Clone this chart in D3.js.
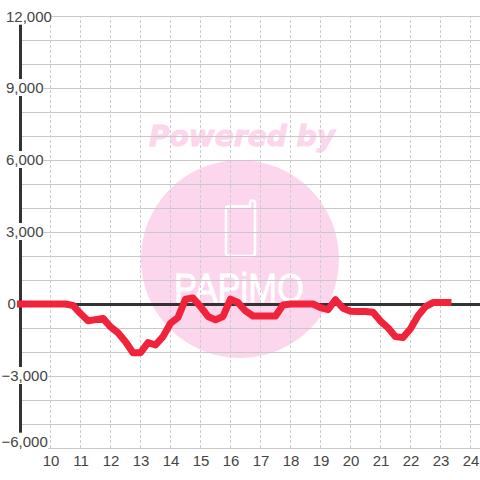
<!DOCTYPE html>
<html>
<head>
<meta charset="utf-8">
<script src="https://cdnjs.cloudflare.com/ajax/libs/d3/7.8.5/d3.min.js"></script>
<style>
  html, body { margin: 0; padding: 0; background: #fff; }
  svg { display: block; }
  text { font-family: "Liberation Sans", Arial, sans-serif; }
</style>
</head>
<body>
<div id="chart"></div>
<script>
// hour of day, every 15 min
var hours = [9, 9.25, 9.5, 9.75, 10, 10.25, 10.5, 10.75, 11, 11.25, 11.5, 11.75,
  12, 12.25, 12.5, 12.75, 13, 13.25, 13.5, 13.75, 14, 14.25, 14.5, 14.75,
  15, 15.25, 15.5, 15.75, 16, 16.25, 16.5, 16.75, 17, 17.25, 17.5, 17.75,
  18, 18.25, 18.5, 18.75, 19, 19.25, 19.5, 19.75, 20, 20.25, 20.5, 20.75,
  21, 21.25, 21.5, 21.75, 22, 22.25, 22.5, 22.75, 23, 23.25]

var values = [0, 0, 0, 0, 0, 0, 0, -60, -400, -700, -650, -600,
  -950, -1200, -1570, -2030, -2030, -1610, -1710, -1360, -800, -560, 200, 250,
  -110, -520, -660, -520, 200, 60, -290, -500, -500, -500, -500, -40,
  0, 0, 0, 0, -150, -240, 180, -180, -300, -310, -310, -340,
  -710, -990, -1360, -1400, -1030, -490, -110, 60, 60, 60]

var hourTicks = [10, 11, 12, 13, 14, 15, 16, 17, 18, 19, 20, 21, 22, 23, 24]
var gridValues = [12000, 11000, 10000, 9000, 8000, 7000, 6000, 5000, 4000, 3000, 2000, 1000,
  0, -1000, -2000, -3000, -4000, -5000, -6000]
var valueLabels = [12000, 9000, 6000, 3000, 0, -3000, -6000]

var width = 480, height = 480
var svg = d3.select("#chart").append("svg").attr("width", width).attr("height", height)

var x = d3.scaleLinear().domain([10, 24]).range([50.5, 470.5])
var y = d3.scaleLinear().domain([12000, -6000]).range([16, 448])

// watermark goes under the grid
var mark = svg.append("g")
mark.append("circle").attr("cx", 240).attr("cy", 259).attr("r", 99).attr("fill", "#fcd6ec")
mark.append("text").text("Powered by")
  .attr("x", 242).attr("y", 146).attr("text-anchor", "middle")
  .attr("textLength", 186).attr("lengthAdjust", "spacingAndGlyphs")
  .style("font-family", "DejaVu Sans").style("font-weight", "bold").style("font-style", "italic")
  .style("font-size", "29px").attr("fill", "#fcd6ec").attr("stroke", "#fcd6ec").attr("stroke-width", 1)
mark.append("path")
  .attr("d", "M228 206.5 H250 V203 Q250 200.5 252.5 200.5 Q255 200.5 255 203 V253 Q255 256 252 256 H229 Q226 256 226 253 V208.5 Q226 206.5 228 206.5 Z")
  .attr("fill", "none").attr("stroke", "#fff").attr("stroke-width", 2.5)
mark.append("text").text("PAPiMO")
  .attr("x", 174).attr("y", 302).attr("textLength", 130).attr("lengthAdjust", "spacingAndGlyphs")
  .style("font-size", "40px").attr("fill", "#fff").attr("stroke", "#fff").attr("stroke-width", 0.8)

// grid, from the axes
var hGrid = d3.axisLeft(y).tickValues(gridValues).tickSize(-460).tickFormat("").offset(0.5)
svg.append("g").attr("transform", "translate(20,0)").call(hGrid)
  .call(function(g) { g.select(".domain").remove() })
  .selectAll("line").attr("stroke", "#c8c8c8")

var vGrid = d3.axisBottom(x).tickValues(hourTicks).tickSize(-432).tickFormat(d3.format("d")).tickPadding(5).offset(0)
var vg = svg.append("g").attr("transform", "translate(0,448)").call(vGrid)
vg.select(".domain").remove()
vg.selectAll("line").attr("stroke", "#ccc").attr("stroke-dasharray", "3,2")
vg.selectAll("text").attr("fill", "#444").style("font-size", "15px").attr("y", 0).attr("dy", null)
  .attr("transform", "translate(0.5,17.7)")

// heavy axis lines
svg.append("line").attr("x1", 20.5).attr("x2", 20.5).attr("y1", y(12000)).attr("y2", y(-6000))
  .attr("stroke", "#333").attr("stroke-width", 3)
svg.append("line").attr("x1", 20).attr("x2", width).attr("y1", y(0) + 0.5).attr("y2", y(0) + 0.5)
  .attr("stroke", "#333").attr("stroke-width", 3)

// value labels sit on white boxes that cut the axis and grid
var fmt = d3.format(",")
var lab = svg.append("g").selectAll("g").data(valueLabels).enter().append("g")
lab.append("text")
  .text(function(d) { return fmt(d) })
  .attr("x", function(d) { return d < 0 ? 1.5 : d == 0 ? 7.5 : 6 })
  .attr("y", function(d) { return d == -6000 ? y(d) - 1.3 : d == 12000 ? y(d) + 5.7 : y(d) + 5 })
  .attr("fill", "#444").style("font-size", "15px")
lab.each(function() {
  var t = d3.select(this).select("text")
  var b = t.node().getBBox()
  d3.select(this).insert("rect", "text")
    .attr("x", b.x).attr("y", b.y).attr("width", b.width).attr("height", b.height)
    .attr("fill", "#fff")
})

// the series
var line = d3.line()
  .x(function(d, i) { return x(hours[i]) })
  .y(function(d) { return y(d) })

svg.append("path").datum(values)
  .attr("d", line)
  .attr("fill", "none")
  .attr("stroke", "#f0233a")
  .attr("stroke-width", 7)
  .attr("stroke-linecap", "square")
  .attr("stroke-linejoin", "round")
</script>
</body>
</html>
